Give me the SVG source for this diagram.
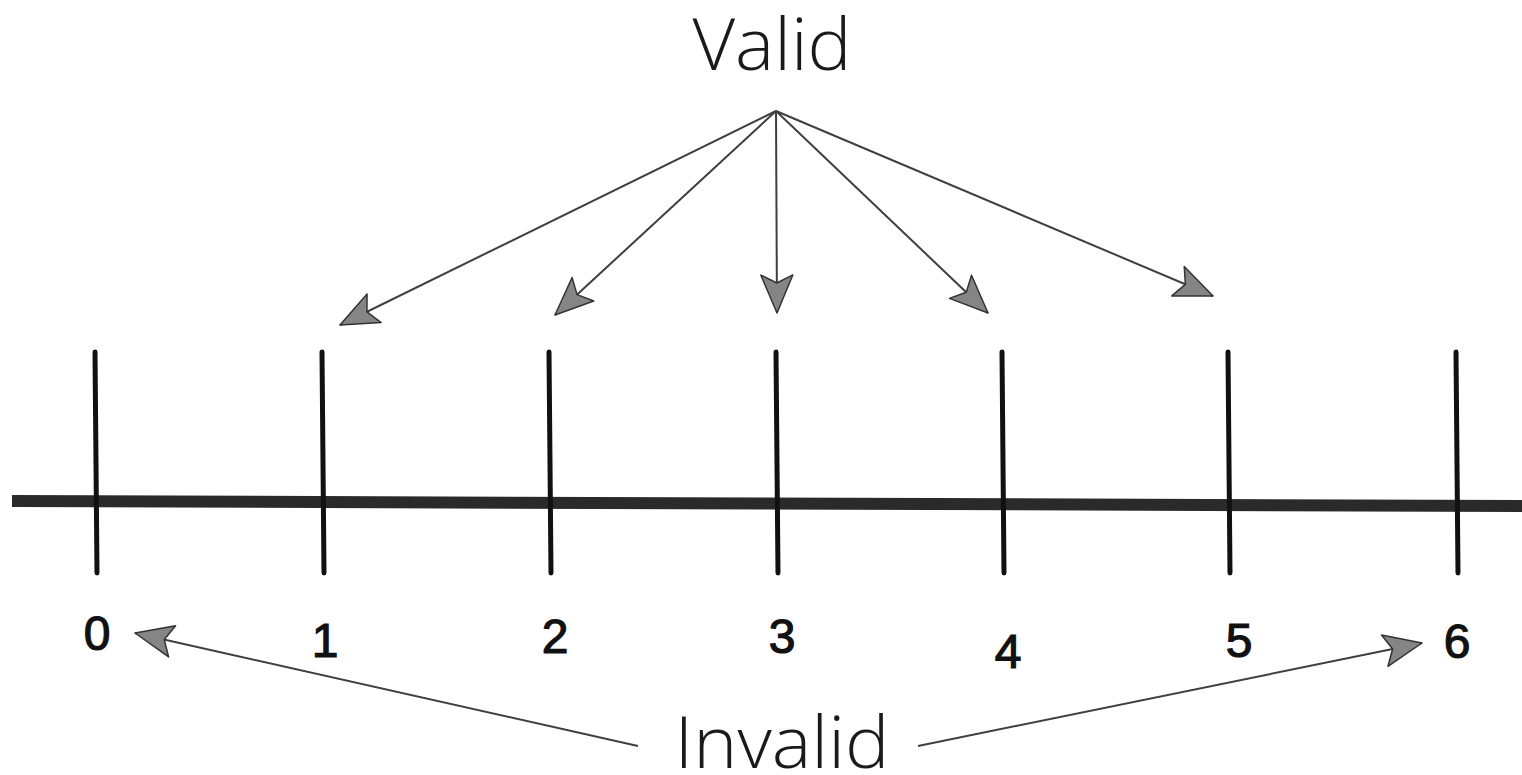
<svg xmlns="http://www.w3.org/2000/svg" width="1522" height="775" viewBox="0 0 1522 775">
  <defs>
    <!-- dart-shaped grey arrowhead, tip at the path end -->
    <marker id="dart" markerUnits="userSpaceOnUse" markerWidth="46" markerHeight="40" viewBox="-42 -20 46 40" refX="0" refY="0" orient="auto">
      <path d="M0,0 L-38,-16 L-30,0 L-38,16 Z" fill="#858585" stroke="#333" stroke-width="1.5" stroke-linejoin="round"/>
    </marker>
    <style>
      .axis { stroke: #2a2a2a; stroke-width: 12; stroke-linecap: butt; fill: none; }
      .tick { stroke: #111; stroke-width: 5; stroke-linecap: round; fill: none; }
      .conn { stroke: #3f3f3f; stroke-width: 2; fill: none; marker-end: url(#dart); }
      .num { font-family: "Liberation Sans", Arial, sans-serif; font-size: 48px; fill: #111; stroke: #111; stroke-width: 1.2; text-anchor: middle; }
      .hand { font-family: "Open Sans", "Lato", sans-serif; font-weight: 300; font-size: 72px; fill: #1a1a1a; text-anchor: middle; }
    </style>
  </defs>

  <rect width="1522" height="775" fill="#ffffff"/>

  <!-- number line -->
  <g id="axis">
    <line class="axis" x1="12" y1="501" x2="1522" y2="506"/>
  </g>

  <g id="tick-0"><line class="tick" x1="95" y1="352" x2="97" y2="573"/><text class="num" x="97" y="650">0</text></g>
  <g id="tick-1"><line class="tick" x1="322" y1="352" x2="324" y2="573"/><text class="num" x="325" y="657">1</text></g>
  <g id="tick-2"><line class="tick" x1="549" y1="352" x2="551" y2="573"/><text class="num" x="555" y="653">2</text></g>
  <g id="tick-3"><line class="tick" x1="776" y1="352" x2="778" y2="573"/><text class="num" x="782" y="653">3</text></g>
  <g id="tick-4"><line class="tick" x1="1002" y1="352" x2="1004" y2="573"/><text class="num" x="1008" y="668">4</text></g>
  <g id="tick-5"><line class="tick" x1="1228" y1="352" x2="1230" y2="573"/><text class="num" x="1239" y="657">5</text></g>
  <g id="tick-6"><line class="tick" x1="1456" y1="352" x2="1458" y2="573"/><text class="num" x="1457" y="658">6</text></g>

  <!-- labels -->
  <g id="valid"><text class="hand" x="772" y="70" textLength="159" lengthAdjust="spacingAndGlyphs">Valid</text></g>
  <g id="invalid"><text class="hand" x="782" y="768" textLength="215" lengthAdjust="spacingAndGlyphs">Invalid</text></g>

  <!-- connectors -->
  <g id="connectors">
    <line class="conn" x1="776" y1="111" x2="340" y2="325"/>
    <line class="conn" x1="776" y1="111" x2="555" y2="315"/>
    <line class="conn" x1="776" y1="111" x2="777" y2="313"/>
    <line class="conn" x1="776" y1="111" x2="988" y2="313"/>
    <line class="conn" x1="776" y1="111" x2="1213" y2="296"/>
    <line class="conn" x1="638" y1="746" x2="135" y2="633"/>
    <line class="conn" x1="918" y1="746" x2="1422" y2="643"/>
  </g>
</svg>
